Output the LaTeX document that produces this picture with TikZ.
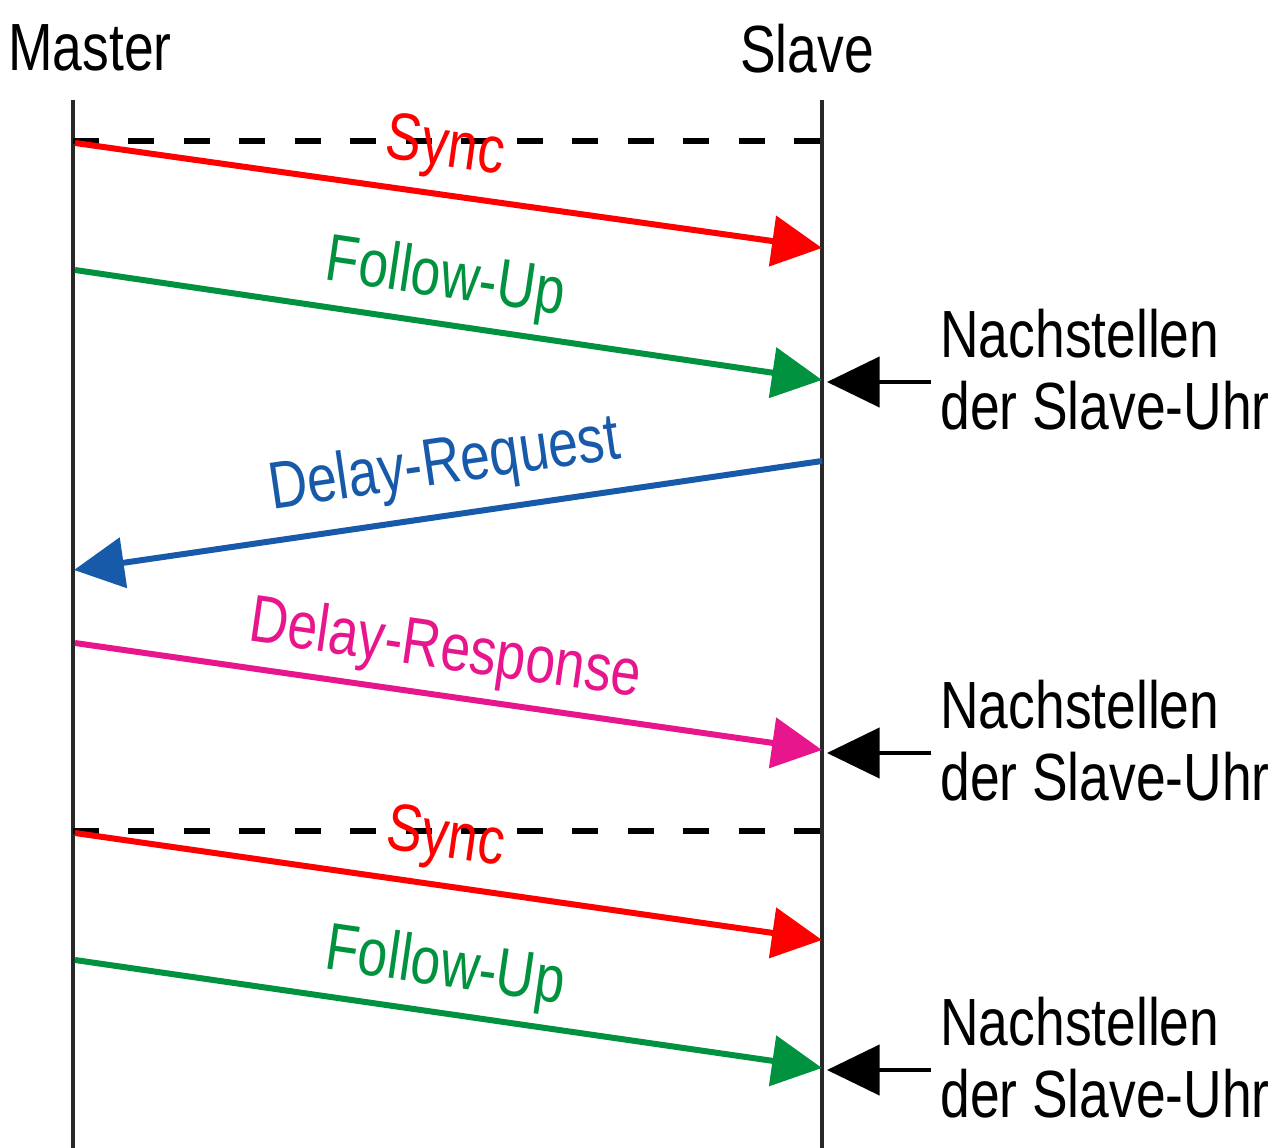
\documentclass[tikz,border=0pt]{standalone}
\usepackage{fontspec}
\setmainfont{Liberation Sans}[FakeStretch=0.8]
\usepackage{xcolor}
\usetikzlibrary{arrows.meta, positioning}

\definecolor{syncred}{RGB}{255,0,0}
\definecolor{fugreen}{RGB}{0,146,63}
\definecolor{reqblue}{RGB}{24,90,170}
\definecolor{respmagenta}{RGB}{232,22,140}
\definecolor{lifegray}{RGB}{40,40,40}

\begin{document}
\begin{tikzpicture}[
    x=0.02cm, y=-0.02cm,
    every node/.style={font=\fontsize{38}{41}\selectfont, inner sep=0pt},
    lifeline/.style={draw=lifegray, line width=0.08cm},
    period/.style={draw=black, line width=0.11cm, dash pattern=on 0.52cm off 0.59cm},
    msg/.style={line width=0.12cm, -{Triangle[length=1cm, width=1cm]}},
    msglabel/.style={pos=0.487, sloped, text depth=0.21em},
    adj/.style={line width=0.08cm, -{Triangle[length=1.05cm, width=1cm]}},
    adjlabel/.style={align=left, anchor=west}
]
\useasboundingbox (0,0) rectangle (1280,1148);

% Participants
\node (master) at (90,48) {Master};
\node (slave) at (807,49) {Slave};
\coordinate (mtop) at (73,100);
\coordinate (mbot) at (73,1148);
\coordinate (stop) at (822,100);
\coordinate (sbot) at (822,1148);
\draw[lifeline] (mtop) -- (mbot);
\draw[lifeline] (stop) -- (sbot);

% Sync periods
\coordinate (p1a) at (73,141);
\coordinate (p1b) at (822,141);
\coordinate (p2a) at (73,831);
\coordinate (p2b) at (822,831);
\draw[period] (p1a) -- (p1b);
\draw[period] (p2a) -- (p2b);

% Messages, first period
\coordinate (m1) at (75,143);  \coordinate (s1) at (822,248);
\coordinate (m2) at (75,270);  \coordinate (s2) at (822,380);
\coordinate (s3) at (822,461); \coordinate (m3) at (74,570);
\coordinate (m4) at (75,643);  \coordinate (s4) at (822,750);
\draw[msg, syncred] (m1) -- node[msglabel, above=0.44cm] {Sync} (s1);
\draw[msg, fugreen] (m2) -- node[msglabel, above=0.4cm] {Follow-Up} (s2);
\draw[msg, reqblue] (s3) -- node[msglabel, pos=0.495, above=0.5cm] {Delay-Request} (m3);
\draw[msg, respmagenta] (m4) -- node[msglabel, above=0.4cm] {Delay-Response} (s4);

% Messages, second period
\coordinate (m5) at (75,833);  \coordinate (s5) at (822,940);
\coordinate (m6) at (75,960);  \coordinate (s6) at (822,1068);
\draw[msg, syncred] (m5) -- node[msglabel, above=0.44cm] {Sync} (s5);
\draw[msg, fugreen] (m6) -- node[msglabel, above=0.4cm] {Follow-Up} (s6);

% Clock adjustment
\coordinate (a1) at (931,382);  \coordinate (t1) at (827,382);
\coordinate (a2) at (931,753);  \coordinate (t2) at (827,753);
\coordinate (a3) at (931,1070); \coordinate (t3) at (827,1070);
\draw[adj] (a1) -- (t1);
\draw[adj] (a2) -- (t2);
\draw[adj] (a3) -- (t3);
\node[adjlabel] (n1) at (940,370) {Nachstellen\\der Slave-Uhr};
\node[adjlabel] (n2) at (940,741) {Nachstellen\\der Slave-Uhr};
\node[adjlabel] (n3) at (940,1058) {Nachstellen\\der Slave-Uhr};

\end{tikzpicture}
\end{document}
